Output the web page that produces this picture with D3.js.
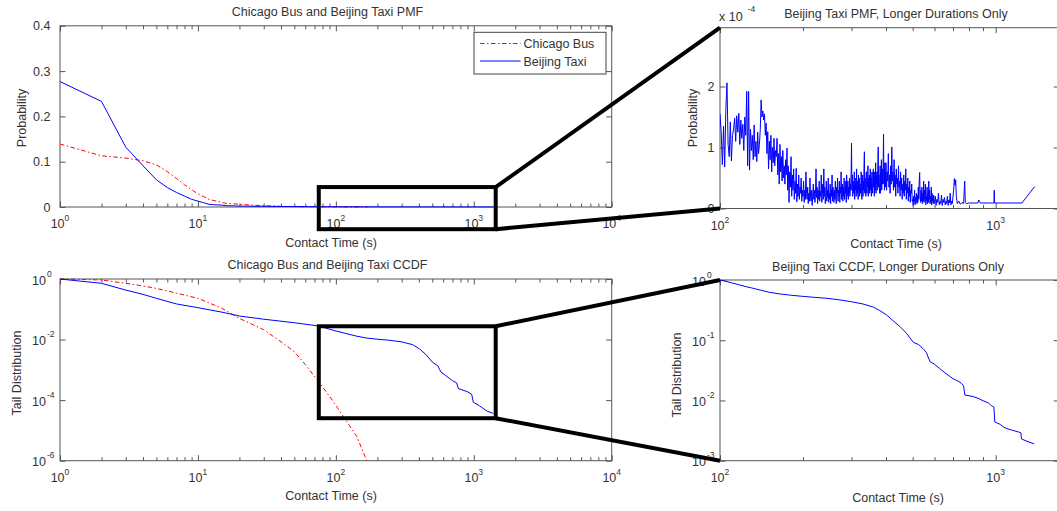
<!DOCTYPE html>
<html>
<head>
<meta charset="utf-8">
<script src="https://cdn.jsdelivr.net/npm/d3@7"></script>
<style>
  html, body { margin: 0; padding: 0; background: #fff; }
  svg text { font-family: "Liberation Sans", Arial, Helvetica, sans-serif; fill: #333; }
</style>
</head>
<body>
<svg id="chart" width="1057" height="511"></svg>
<script>
// ---------------- Data ----------------
// Probability mass of contact durations (s), full range
const busPmfTime = [1, 2, 3, 4, 5, 6, 7, 8, 9, 10, 11, 12, 14, 16, 20, 25, 30, 40, 60, 100, 170];
const busPmfProb = [0.139, 0.113, 0.108, 0.102, 0.093, 0.078, 0.063, 0.049, 0.038, 0.029, 0.023, 0.017,
                    0.012, 0.008, 0.006, 0.004, 0.003, 0.0015, 0.0006, 0.0002, 0.00005];
const taxiPmfTime = [1, 2, 3, 4, 5, 6, 7, 8, 9, 10, 11, 12, 13, 14, 15, 16, 20, 30, 50, 100, 200, 500, 1400];
const taxiPmfProb = [0.277, 0.233, 0.132, 0.091, 0.060, 0.043, 0.032, 0.024, 0.017, 0.013, 0.0095, 0.006,
                     0.005, 0.0045, 0.004, 0.003, 0.002, 0.0015, 0.001, 0.0005, 0.0003, 0.0002, 0.0001];

// Beijing taxi PMF for contacts of 100 s and longer (units of 1e-4)
const taxiTailPmfTime = [].concat(
  d3.range(100, 400), d3.range(400, 600, 2), d3.range(600, 700, 4),
  [704, 708, 712, 716, 720, 726, 735, 745, 755, 765, 772, 776, 782, 800, 840, 862, 868, 874, 880,
   950, 986, 988, 990, 1100, 1245, 1385]);
const taxiTailPmfProb = [
  // 100-199 s
  1.55, 1.25, 0.72, 1.35, 0.68, 1.62, 2.06, 1.05, 0.85, 1.42, 0.78, 1.20,
  1.30, 1.48, 1.10, 1.52, 1.25, 1.56, 1.05, 1.45, 1.15, 1.38, 0.95, 1.50, 1.20,
  1.92, 0.70, 1.92, 0.63, 1.30, 0.95,
  1.20, 0.80, 1.37, 0.85, 1.10, 0.77, 1.25, 0.90, 1.05, 1.30,
  1.78, 1.50, 1.60, 1.45, 1.55, 1.20, 1.40,
  0.90, 1.26, 0.65, 1.10, 0.80, 1.20, 0.60, 1.00, 0.75, 1.15, 0.70, 0.95, 0.85,
  1.15, 0.55, 0.90, 0.40, 1.05, 0.60, 0.85, 0.45, 0.95, 0.50, 0.70, 0.40, 0.80, 0.55,
  0.99, 0.30, 0.70, 0.10, 0.60, 0.35, 0.85, 0.20, 0.55, 0.30, 0.65, 0.15, 0.45, 0.25,
  0.66, 0.11, 0.40, 0.20, 0.55, 0.15, 0.35, 0.25, 0.50, 0.12, 0.30,
  // 200-299 s
  0.20, 0.45, 0.10, 0.30, 0.15, 0.60, 0.25, 0.15, 0.35, 0.08,
  0.25, 0.12, 0.50, 0.20, 0.12, 0.30, 0.05, 0.22, 0.40, 0.15,
  0.30, 0.10, 0.25, 0.65, 0.18, 0.35, 0.08, 0.30, 0.15, 0.45,
  0.12, 0.28, 0.20, 0.55, 0.10, 0.25, 0.40, 0.15, 0.65, 0.20,
  0.35, 0.08, 0.22, 0.45, 0.12, 0.30, 0.18, 0.50, 0.10, 0.25,
  0.15, 0.40, 0.08, 0.30, 0.20, 0.55, 0.12, 0.35, 0.25, 0.10,
  0.30, 0.15, 0.45, 0.20, 0.08, 0.35, 0.25, 0.50, 0.12, 0.30,
  0.20, 0.45, 0.10, 0.35, 0.25, 0.60, 0.15, 0.30, 0.40, 0.12,
  0.35, 0.20, 0.50, 0.15, 0.30, 0.25, 0.45, 0.10, 0.55, 0.20,
  0.30, 0.45, 0.15, 0.35, 0.25, 0.50, 0.20, 0.40, 0.30, 0.60,
  // 300-399 s
  1.07, 0.30, 0.55, 0.20, 0.45, 0.35, 0.25, 0.60, 0.15, 0.40,
  0.30, 0.50, 0.20, 0.65, 0.35, 0.25, 0.45, 0.15, 0.55, 0.30,
  0.50, 0.20, 0.40, 0.35, 0.25, 0.60, 0.45, 0.15, 0.35, 0.55,
  0.20, 0.45, 0.30, 0.70, 0.93, 0.25, 0.50, 0.35, 0.20, 0.60,
  0.60, 0.25, 0.45, 0.35, 0.70, 0.20, 0.50, 0.30, 0.55, 0.25,
  0.40, 0.65, 0.30, 0.50, 0.20, 0.45, 0.60, 0.35, 0.25, 0.55,
  0.65, 0.35, 0.50, 0.20, 0.60, 0.30, 0.45, 0.75, 0.25, 0.55,
  0.40, 0.60, 0.30, 0.50, 0.80, 1.01, 0.35, 0.55, 0.45, 0.25,
  0.35, 0.70, 0.25, 0.60, 0.45, 0.80, 0.30, 0.55, 0.65, 0.40,
  0.50, 0.85, 1.22, 0.40, 0.65, 0.30, 0.75, 0.45, 0.60, 0.35,
  // 400-598 s
  0.75, 0.30, 0.60, 0.45, 0.90, 0.35, 0.55, 0.25, 0.70, 0.40,
  1.01, 0.45, 0.60, 0.30, 0.80, 0.35, 0.55, 0.20, 0.65, 0.40,
  0.50, 0.25, 0.70, 0.35, 0.45, 0.20, 0.60, 0.30, 0.50, 0.15,
  0.40, 0.25, 0.55, 0.20, 0.45, 0.30, 0.65, 0.15, 0.40, 0.25,
  0.50, 0.12, 0.35, 0.20, 0.45, 0.10, 0.30, 0.25, 0.40, 0.12,
  0.15, 0.05, 0.20, 0.10, 0.30, 0.06, 0.18, 0.12, 0.25, 0.08,
  0.22, 0.10, 0.35, 0.15, 0.45, 0.59, 0.20, 0.10, 0.30, 0.12,
  0.35, 0.08, 0.25, 0.12, 0.45, 0.10, 0.30, 0.15, 0.40, 0.06,
  0.20, 0.12, 0.35, 0.08, 0.25, 0.10, 0.45, 0.15, 0.30, 0.08,
  0.20, 0.10, 0.35, 0.06, 0.25, 0.12, 0.18, 0.08, 0.22, 0.10,
  // 600-696 s
  0.08, 0.20, 0.05, 0.15, 0.10, 0.25, 0.06, 0.12, 0.08, 0.22, 0.05, 0.15, 0.10,
  0.18, 0.06, 0.12, 0.08, 0.20, 0.05, 0.14, 0.09, 0.25, 0.06, 0.12, 0.08,
  // 704 s and beyond
  0.30, 0.49, 0.38, 0.47, 0.20, 0.08, 0.12, 0.07, 0.10, 0.08, 0.45, 0.10, 0.08, 0.09, 0.09, 0.09,
  0.14, 0.12, 0.09, 0.09, 0.09, 0.30, 0.09, 0.09, 0.09, 0.36
];

// Tail distribution (CCDF), full range
const busCcdfTime = [1, 2, 3, 4, 5, 7, 10, 15, 20, 30, 40, 50, 60, 75, 96, 120, 142, 163, 168];
const busCcdfProb = [1, 0.93, 0.72, 0.59, 0.49, 0.34, 0.23, 0.107, 0.050, 0.021, 0.0085, 0.0040, 0.0015,
                     0.00041, 0.000089, 0.0000195, 0.0000062, 0.00000135, 0.000001];
const taxiCcdfTime = [1, 2, 3, 4, 5, 7, 10, 15, 20, 30, 50, 75, 100, 118, 140, 165, 199, 244, 299, 360, 402,
                      450, 503, 548, 578, 626, 700, 751, 773, 900, 965, 993, 1100, 1240, 1380];
const taxiCcdfProb = [1, 0.72, 0.43, 0.31, 0.23, 0.15, 0.113, 0.08, 0.060, 0.047, 0.036, 0.028, 0.0192,
                      0.0159, 0.0131, 0.0113, 0.0103, 0.0095, 0.0084, 0.0068, 0.0050, 0.0032, 0.00177,
                      0.00136, 0.00085, 0.00065, 0.00044, 0.00037, 0.00024, 0.00019, 0.000157, 0.000085,
                      0.000065, 0.000044, 0.0000365];

// Beijing taxi CCDF conditioned on contacts of 100 s and longer
const taxiTailCcdfTime = [100, 105, 110, 118, 125, 130, 140, 150, 165, 180, 199, 220, 244, 270, 299, 330, 360,
                          380, 402, 425, 450, 475, 503, 525, 548, 560, 578, 600, 626, 660, 700, 730, 751, 765,
                          773, 800, 829, 870, 900, 940, 965, 985, 993, 1040, 1070, 1100, 1150, 1210, 1235, 1240,
                          1300, 1380];
const taxiTailCcdfProb = [1.0, 0.95, 0.9, 0.826, 0.77, 0.74, 0.68, 0.63, 0.586, 0.56, 0.536, 0.515, 0.497, 0.47,
                          0.436, 0.40, 0.356, 0.31, 0.263, 0.21, 0.168, 0.13, 0.092, 0.085, 0.071, 0.063, 0.044,
                          0.040, 0.034, 0.028, 0.023, 0.021, 0.0193, 0.0175, 0.0123, 0.0120, 0.0116, 0.0107,
                          0.0099, 0.0091, 0.0082, 0.0078, 0.0044, 0.0040, 0.0036, 0.0034, 0.0032, 0.0030,
                          0.0029, 0.0023, 0.0021, 0.0019];

// Zoomed region shown in the right-hand panels
const zoomTime = [75.2, 1442];
const zoomPmf = [-0.049, 0.044];
const zoomCcdf = [2.53e-5, 0.0275];

// Tick values and labels
const fullDecades = [1, 10, 100, 1000, 10000];
const tailDecades = [100, 1000];
const pmfTicks = [0, 0.1, 0.2, 0.3, 0.4];
const pmfTickLabels = ["0", "0.1", "0.2", "0.3", "0.4"];
const tailPmfTicks = [0, 1, 2];
const tailPmfTickLabels = ["0", "1", "2"];
const ccdfTicks = [1e-6, 1e-4, 1e-2, 1];
const tailCcdfTicks = [1e-3, 1e-2, 1e-1, 1];
const seriesNames = ["Chicago Bus", "Beijing Taxi"];

// ---------------- Drawing ----------------
const svg = d3.select("#chart");
const AXIS = "#555", BLUE = "#0000ff", RED = "#ff0000";
const FONT = 12.5, SUP = 8.5;
const DASHDOT = "4.5,2.5,1.5,2.5";

const xFull = d3.scaleLog().domain([1, 1e4]).range([60, 611.7]);
const xTail = d3.scaleLog().domain([100, 1700]).range([720, 1059.2]);
const yPmf = d3.scaleLinear().domain([0, 0.4]).range([207, 25.8]);
const yTailPmf = d3.scaleLinear().domain([0, 2.964]).range([208.5, 27.7]);
const yCcdf = d3.scaleLog().domain([1e-6, 1]).range([460.7, 279]);
const yTailCcdf = d3.scaleLog().domain([1e-3, 1]).range([460.7, 280]);

function minorLog(scale) {
  const [lo, hi] = scale.domain();
  const out = [];
  for (let d = Math.pow(10, Math.floor(Math.log10(lo))); d < hi; d *= 10)
    for (let m = 2; m <= 9; m++) if (d * m > lo && d * m < hi) out.push(d * m);
  return out;
}

function tickRow(g, axisFn, scale, values, size, tr) {
  g.append("g").attr("transform", tr)
    .call(axisFn(scale).tickValues(values).tickSize(-size).tickFormat(""))
    .call(a => a.select(".domain").remove())
    .call(a => a.selectAll("line").attr("stroke", AXIS))
    .call(a => a.selectAll("text").remove());
}

function frame(x, y, xMajor, xMinor, yMajor) {
  const g = svg.append("g");
  const [x0, x1] = x.range();
  const [yb, yt] = y.range();
  tickRow(g, d3.axisBottom, x, xMajor, 5.5, `translate(0,${yb})`);
  tickRow(g, d3.axisTop, x, xMajor, 5.5, `translate(0,${yt})`);
  if (xMinor) {
    tickRow(g, d3.axisBottom, x, xMinor, 3.5, `translate(0,${yb})`);
    tickRow(g, d3.axisTop, x, xMinor, 3.5, `translate(0,${yt})`);
  }
  tickRow(g, d3.axisLeft, y, yMajor, 5.5, `translate(${x0},0)`);
  tickRow(g, d3.axisRight, y, yMajor, 5.5, `translate(${x1},0)`);
  g.append("rect").attr("x", x0).attr("y", yt).attr("width", x1 - x0).attr("height", yb - yt)
    .attr("fill", "none").attr("stroke", AXIS).attr("stroke-width", 1);
  return g;
}

function decadeLabelsX(g, x, values, yBottom) {
  values.forEach(v => {
    const t = g.append("text").attr("x", x(v)).attr("y", yBottom + 21)
      .attr("text-anchor", "middle").attr("font-size", FONT).text("10");
    t.append("tspan").attr("dy", -7).attr("font-size", SUP).text(Math.round(Math.log10(v)));
  });
}

function decadeLabelsY(g, y, values, xLeft) {
  values.forEach(v => {
    g.append("text").attr("x", xLeft - 14).attr("y", y(v) + 5.5)
      .attr("text-anchor", "end").attr("font-size", FONT).text("10");
    g.append("text").attr("x", xLeft - 13).attr("y", y(v) - 2.5)
      .attr("text-anchor", "start").attr("font-size", SUP).text(Math.round(Math.log10(v)));
  });
}

function plainLabelsY(g, y, values, labels, xRight) {
  values.forEach((v, i) => {
    g.append("text").attr("x", xRight).attr("y", y(v) + 4.5)
      .attr("text-anchor", "end").attr("font-size", FONT).text(labels[i]);
  });
}

function caption(txt, x, y, rotate) {
  const t = svg.append("text").attr("font-size", FONT).attr("text-anchor", "middle").text(txt);
  if (rotate) t.attr("transform", `translate(${x},${y}) rotate(-90)`);
  else t.attr("x", x).attr("y", y);
}

let clipCount = 0;
function plotSeries(x, y, xs, ys, color, dash) {
  const id = "clip" + (clipCount++);
  const [x0, x1] = x.range();
  const [yb, yt] = y.range();
  svg.append("clipPath").attr("id", id).append("rect")
    .attr("x", x0).attr("y", yt - 1).attr("width", x1 - x0).attr("height", yb - yt + 2);
  const line = d3.line().x(d => x(d[0])).y(d => y(d[1]));
  svg.append("path").datum(d3.zip(xs, ys)).attr("d", line)
    .attr("clip-path", `url(#${id})`)
    .attr("fill", "none").attr("stroke", color).attr("stroke-width", 1)
    .attr("stroke-linejoin", "round")
    .attr("stroke-dasharray", dash || null);
}

// Top-left: PMF, both data sets
const g1 = frame(xFull, yPmf, fullDecades, minorLog(xFull), pmfTicks);
decadeLabelsX(g1, xFull, fullDecades, 207);
plainLabelsY(g1, yPmf, pmfTicks, pmfTickLabels, 50.5);
plotSeries(xFull, yPmf, busPmfTime, busPmfProb, RED, DASHDOT);
plotSeries(xFull, yPmf, taxiPmfTime, taxiPmfProb, BLUE);
caption("Chicago Bus and Beijing Taxi PMF", 327.5, 16);
caption("Contact Time (s)", 331, 246.5);
caption("Probability", 26, 118, true);

// Top-right: taxi PMF, long contacts
const g2 = frame(xTail, yTailPmf, tailDecades, minorLog(xTail), tailPmfTicks);
decadeLabelsX(g2, xTail, tailDecades, 208.5);
plainLabelsY(g2, yTailPmf, tailPmfTicks, tailPmfTickLabels, 714.5);
plotSeries(xTail, yTailPmf, taxiTailPmfTime, taxiTailPmfProb, BLUE);
{
  const t = svg.append("text").attr("x", 719).attr("y", 20.7).attr("font-size", FONT).text("x 10");
  t.append("tspan").attr("dx", 5).attr("dy", -8.5).attr("font-size", SUP).text("-4");
}
caption("Beijing Taxi PMF, Longer Durations Only", 896, 17.5);
caption("Contact Time (s)", 896, 248);
caption("Probability", 696.5, 118, true);

// Bottom-left: CCDF, both data sets
const g3 = frame(xFull, yCcdf, fullDecades, minorLog(xFull), ccdfTicks);
decadeLabelsX(g3, xFull, fullDecades, 460.7);
decadeLabelsY(g3, yCcdf, ccdfTicks, 60);
plotSeries(xFull, yCcdf, busCcdfTime, busCcdfProb, RED, DASHDOT);
plotSeries(xFull, yCcdf, taxiCcdfTime, taxiCcdfProb, BLUE);
caption("Chicago Bus and Beijing Taxi CCDF", 327.5, 269.3);
caption("Contact Time (s)", 331, 500);
caption("Tail Distribution", 20.5, 373, true);

// Bottom-right: taxi CCDF, long contacts
const g4 = frame(xTail, yTailCcdf, tailDecades, minorLog(xTail), tailCcdfTicks);
decadeLabelsX(g4, xTail, tailDecades, 460.7);
decadeLabelsY(g4, yTailCcdf, tailCcdfTicks, 720);
plotSeries(xTail, yTailCcdf, taxiTailCcdfTime, taxiTailCcdfProb, BLUE);
caption("Beijing Taxi CCDF, Longer Durations Only", 888, 270.5);
caption("Contact Time (s)", 898, 502);
caption("Tail Distribution", 680.5, 375, true);

// Zoom boxes and connector lines to the magnified panels
function zoomCallout(y, yRange, yTarget) {
  const bx0 = xFull(zoomTime[0]), bx1 = xFull(zoomTime[1]);
  const by0 = y(yRange[1]), by1 = y(yRange[0]);
  const g = svg.append("g").attr("stroke", "#000").attr("stroke-width", 4).attr("fill", "none");
  g.append("rect").attr("x", bx0).attr("y", by0).attr("width", bx1 - bx0).attr("height", by1 - by0);
  const tx = xTail.range()[0];
  const [tb, tt] = yTarget.range();
  g.append("line").attr("x1", bx1).attr("y1", by0).attr("x2", tx).attr("y2", tt);
  g.append("line").attr("x1", bx1).attr("y1", by1).attr("x2", tx).attr("y2", tb);
}
zoomCallout(yPmf, zoomPmf, yTailPmf);
zoomCallout(yCcdf, zoomCcdf, yTailCcdf);

// Legend
{
  const lg = svg.append("g");
  lg.append("rect").attr("x", 474).attr("y", 32.3).attr("width", 132).attr("height", 41.7)
    .attr("fill", "#fff").attr("stroke", "#444").attr("stroke-width", 1);
  const rows = [{ name: seriesNames[0], color: RED, dash: DASHDOT, y: 43.5 },
                { name: seriesNames[1], color: BLUE, dash: null, y: 61 }];
  rows.forEach(r => {
    lg.append("line").attr("x1", 480).attr("x2", 520.5).attr("y1", r.y).attr("y2", r.y)
      .style("stroke", r.color).style("stroke-width", 1)
      .style("stroke-dasharray", r.dash || "none");
    lg.append("text").attr("x", 523.5).attr("y", r.y + 4.5).attr("font-size", FONT).text(r.name);
  });
}
</script>
</body>
</html>
